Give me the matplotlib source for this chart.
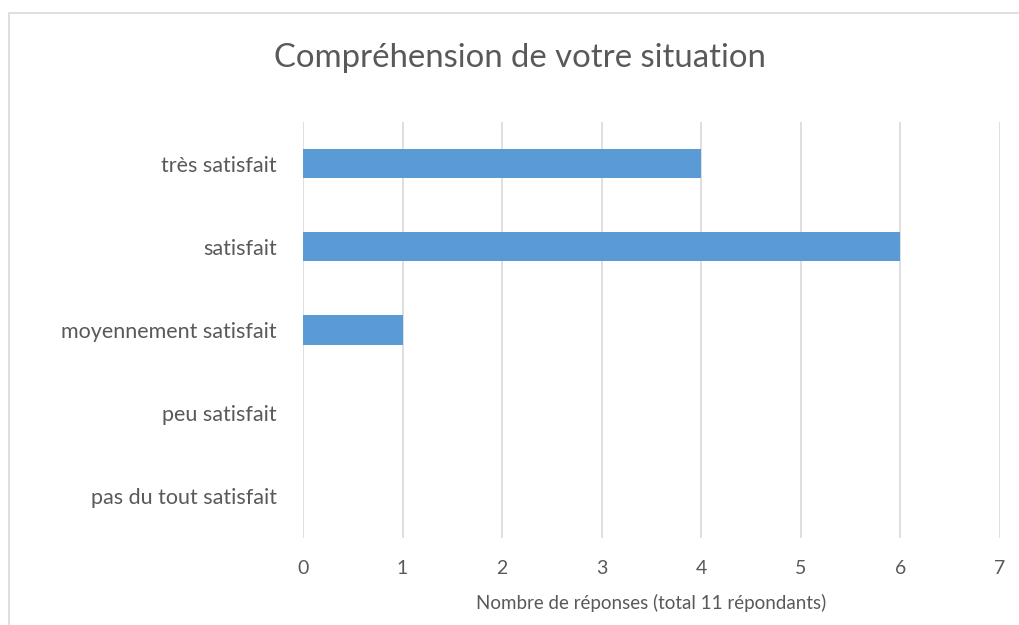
import matplotlib
matplotlib.use('Agg')
import matplotlib.pyplot as plt
from matplotlib.patches import Rectangle

plt.rcParams['font.family'] = ['Lato', 'DejaVu Sans']

# données
categories = ['très satisfait', 'satisfait', 'moyennement satisfait', 'peu satisfait', 'pas du tout satisfait']
valeurs = [4, 6, 1, 0, 0]
ticks_x = [0, 1, 2, 3, 4, 5, 6, 7]

gris_texte = '#595959'
gris_ligne = '#D9D9D9'
bleu = '#5B9BD5'

fig = plt.figure(figsize=(10.19, 6.25), dpi=100)
ax = fig.add_axes([303 / 1019, 1 - 538 / 625, 697 / 1019, 416 / 625])

# cadre du graphique (coupé à droite et en bas)
fig.patches.append(Rectangle((9 / 1019, -0.05), 1.05, 1 - 13 / 625 + 0.05,
                             transform=fig.transFigure, fill=False,
                             edgecolor=gris_ligne, linewidth=1.2))

pos = list(range(len(categories)))
ax.barh(pos, valeurs, height=0.35, color=bleu, zorder=3)
ax.set_yticks(pos)
ax.set_yticklabels(categories)
ax.set_ylim(len(categories) - 0.5, -0.5)
ax.set_xlim(0, 7)
ax.set_xticks(ticks_x)

ax.grid(axis='x', color=gris_ligne, linewidth=1.2, zorder=0)
for s in ax.spines.values():
    s.set_visible(False)
ax.tick_params(length=0, colors=gris_texte)
ax.tick_params(axis='y', labelsize=15.5, pad=19)
ax.tick_params(axis='x', labelsize=14, pad=16)

ax.set_xlabel('Nombre de réponses (total 11 répondants)', fontsize=13.5, color=gris_texte, labelpad=12)
fig.text(520 / 1019, 1 - 58 / 625, 'Compréhension de votre situation', ha='center', va='center',
         fontsize=23.7, color=gris_texte)

plt.savefig('out.png', dpi=100)
